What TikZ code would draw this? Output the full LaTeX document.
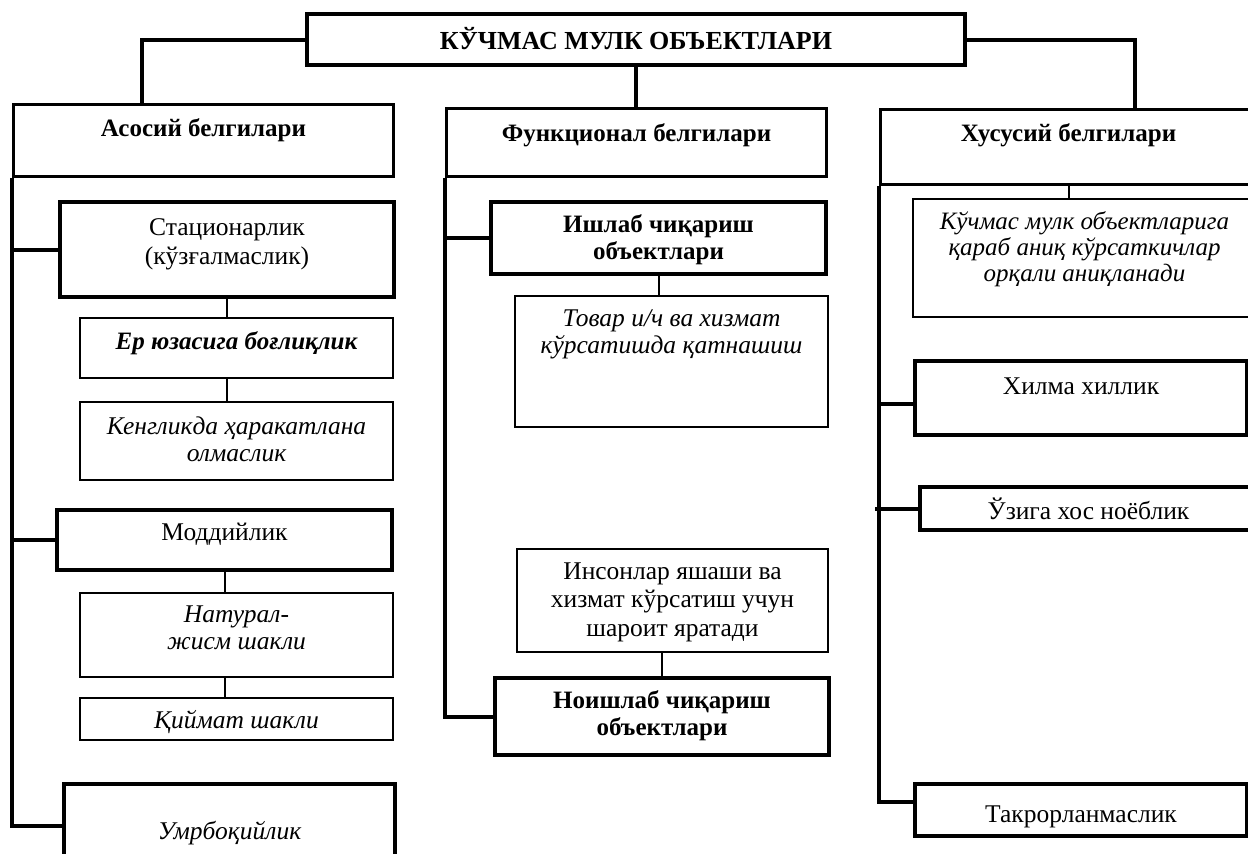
\documentclass[tikz,border=0pt]{standalone}
\usepackage{fontspec}
\setmainfont{Liberation Serif}
\usetikzlibrary{calc}
\tikzset{
  cell/.style n args={3}{draw, anchor=north west, minimum width=#1pt,
    text height=#2pt, text depth=#3pt, inner xsep=0pt, inner ysep=0pt,
    align=center},
  heavy/.style={line width=4pt},
  light/.style={line width=2pt},
  head/.style={font=\fontsize{25}{27}\selectfont\bfseries},
  plain/.style={font=\fontsize{25.5}{28.5}\selectfont},
  slant/.style={font=\fontsize{25.5}{27}\selectfont\itshape},
  trunk/.style={line width=4pt},
  twig/.style={line width=2pt}
}

\begin{document}
\begin{tikzpicture}[x=1pt,y=-1pt]
  \useasboundingbox (0,0) rectangle (1248,854);
  \node[cell={658}{35}{16}, heavy, font=\fontsize{26}{28}\selectfont\bfseries] (root) at (305,12) {КЎЧМАС МУЛК ОБЪЕКТЛАРИ};

  \node[cell={380}{32}{40}, line width=3pt, head] (asos) at (12,103) {Асосий белгилари};
  \node[cell={380}{33}{35}, line width=3pt, head] (funk) at (445,107) {Функционал белгилари};
  \node[cell={376}{32}{43}, line width=3pt, head] (xus) at (879,108) {Хусусий белгилари};

  \node[cell={334}{62}{33}, heavy, plain] (stats) at (58,200) {Стационарлик\\(кўзғалмаслик)};
  \node[cell={313}{31}{29}, light, font=\fontsize{25}{27}\selectfont\bfseries\itshape] (eryuz) at (79,317) {Ер юзасига боғлиқлик};
  \node[cell={313}{59}{19}, light, slant] (keng) at (79,401) {Кенгликда ҳаракатлана\\олмаслик};
  \node[cell={335}{30}{30}, heavy, plain] (modd) at (55,508) {Моддийлик};
  \node[cell={313}{56}{28}, light, slant] (natur) at (79,592) {Натурал-\\жисм шакли};
  \node[cell={313}{30}{12}, light, slant] (qiymat) at (79,697) {Қиймат шакли};
  \node[cell={331}{55}{29}, heavy, slant] (umr) at (62,782) {Умрбоқийлик};

  \node[cell={335}{57}{15}, heavy, head] (ishlab) at (489,200) {Ишлаб чиқариш\\объектлари};
  \node[cell={313}{57}{74}, light, slant] (tovar) at (514,295) {Товар и/ч ва хизмат\\кўрсатишда қатнашиш};
  \node[cell={311}{87}{16}, light, plain] (inson) at (516,548) {Инсонлар яшаши ва\\хизмат кўрсатиш учун\\шароит яратади};
  \node[cell={334}{57}{20}, heavy, head] (noishlab) at (493,676) {Ноишлаб чиқариш\\объектлари};

  \node[cell={343}{82}{36}, light, slant, font=\fontsize{25}{26}\selectfont\itshape] (kuchmas) at (912,198) {Кўчмас мулк объектларига\\қараб аниқ кўрсаткичлар\\орқали аниқланади};
  \node[cell={332}{33}{41}, heavy, plain] (xilma) at (913,359) {Хилма хиллик};
  \node[cell={337}{32}{11}, heavy, plain] (uziga) at (918,485) {Ўзига хос ноёблик};
  \node[cell={332}{38}{14}, heavy, plain] (takror) at (913,782) {Такрорланмаслик};

  \draw[trunk] (root.west) -| ([xshift=-62pt]asos.north);
  \draw[trunk] (root.south) -- (root.south |- funk.north);
  \draw[trunk] (root.east) -| ([xshift=66pt]xus.north);

  \draw[trunk] (asos.south west) |- (umr.west);
  \draw[trunk] (stats.west) -- (stats.west -| asos.south west);
  \draw[trunk] (modd.west) -- (modd.west -| asos.south west);
  \draw[twig] (stats.south) -- (stats.south |- eryuz.north);
  \draw[twig] (eryuz.south -| stats.south) -- (keng.north -| stats.south);
  \draw[twig] (modd.south) -- (modd.south |- natur.north);
  \draw[twig] (natur.south -| modd.south) -- (qiymat.north -| modd.south);

  \draw[trunk] (funk.south west) |- (noishlab.west);
  \draw[trunk] (ishlab.west) -- (ishlab.west -| funk.south west);
  \draw[twig] (ishlab.south) -- (ishlab.south |- tovar.north);
  \draw[twig] (noishlab.north) -- (noishlab.north |- inson.south);

  \draw[trunk] (xus.south west) |- ([yshift=8pt]takror.west);
  \draw[trunk] ([yshift=-6pt]xilma.west) -- ([yshift=-6pt]xilma.west -| xus.south west);
  \draw[trunk] (uziga.west) -- ([xshift=-4pt]uziga.west -| xus.south west);
  \draw[twig] (xus.south) -- (xus.south |- kuchmas.north);
\end{tikzpicture}
\end{document}
